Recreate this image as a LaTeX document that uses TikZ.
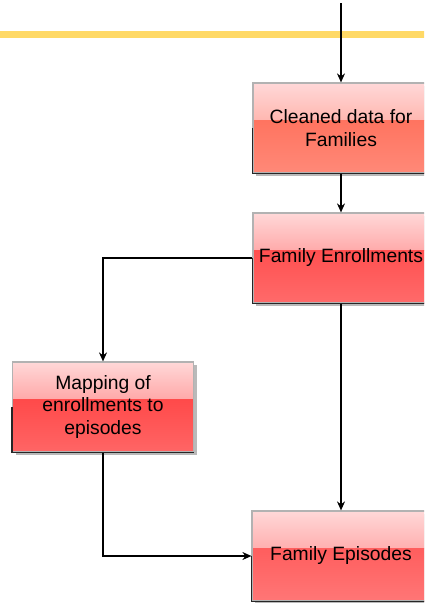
\documentclass[tikz,border=0pt]{standalone}
\usepackage{fontspec}
\setmainfont{Liberation Sans}
\usetikzlibrary{arrows.meta,calc,shadows}
\definecolor{hl}{HTML}{FFD966}
\definecolor{toppink}{HTML}{FFD8D8}
\definecolor{salmon}{HTML}{FF7460}
\definecolor{redA}{HTML}{FF5050}
\definecolor{redB}{HTML}{FF4A4A}
\definecolor{redC}{HTML}{FF5E5E}
\tikzset{
  boxfill/.style={path picture={
    \shade[top color=toppink, bottom color=#1!85!white]
      (path picture bounding box.north west) rectangle
      ($(path picture bounding box.north east)!0.42!(path picture bounding box.south east)$);
    \shade[top color=#1, bottom color=#1!85!white]
      ($(path picture bounding box.north west)!0.42!(path picture bounding box.south west)$)
      rectangle (path picture bounding box.south east);}},
  box/.style={draw=gray!60, line width=1.2pt, inner sep=0pt, minimum height=90pt,
    align=center, font=\fontsize{19.3}{22.8}\selectfont, text=black,
    drop shadow={shadow xshift=3pt, shadow yshift=-3pt, fill=gray!55, opacity=1},
    boxfill=#1},
  edge/.style={black!85, line width=1.2pt},
  arr/.style={black, line width=1.3pt, -{Stealth[length=9pt,width=8pt]}}
}
\begin{document}
\begin{tikzpicture}[x=1pt,y=-1pt]
\useasboundingbox (0,0) rectangle (424,603);
\clip (0,0) rectangle (424,603);
\fill[white] (0,0) rectangle (424,603);
\draw[hl, line width=7pt] (-5,34) -- (430,34);
\node[box=salmon, minimum width=176pt] (b1) at (341,128) {Cleaned data for\\Families};
\node[box=redA, minimum width=176pt] (b2) at (341,258) {Family Enrollments};
\node[box=redB, minimum width=181pt] (b3) at (103,407) {Mapping of\\enrollments to\\episodes};
\node[box=redC, minimum width=178pt] (b4) at (341,556) {Family Episodes};
\foreach \b in {b1,b2,b3,b4}{
  \draw[edge] (\b.west) |- (\b.south east);
}
\coordinate (top) at (341,3);
\draw[arr] (top) -- (b1.north);
\draw[arr] (b1.south) -- (b2.north);
\draw[arr] (b2.south) -- (b4.north);
\draw[arr] (b2.west) -| (b3.north);
\draw[arr] (b3.south) |- (b4.west);
\end{tikzpicture}
\end{document}
